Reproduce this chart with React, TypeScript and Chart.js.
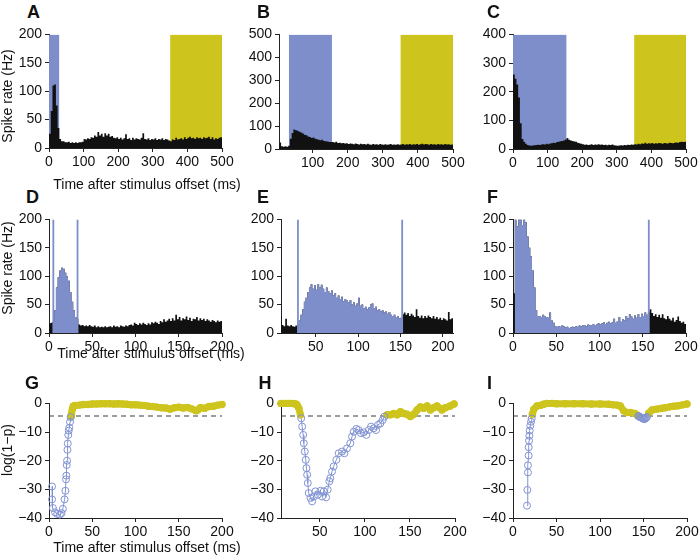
import React, { useEffect, useRef } from "react";
import { Chart, registerables } from "chart.js";

Chart.register(...registerables);

const FONT = "'Liberation Sans', Arial, Helvetica, sans-serif";
const BLUE = "#7d8eca";
const BLUE_MARK = "#8193d2";
const YELLOW = "#cdc41d";
const BLACK = "#111111";
const AXIS = "#222222";

// ---------- tick labels ----------
const ticks0to500 = [0, 100, 200, 300, 400, 500];
const ticks100to500 = [100, 200, 300, 400, 500];
const ticks0to200 = [0, 50, 100, 150, 200];
const ticks50to200 = [50, 100, 150, 200];
const rateTicks200 = [0, 50, 100, 150, 200];
const rateTicks500 = [0, 100, 200, 300, 400, 500];
const rateTicks400 = [0, 100, 200, 300, 400];
const logTicks = [-40, -30, -20, -10, 0];

// ---------- panel A (5 ms bins from 0) ----------
const aStart = 0;
const aBin = 5;
const aRate = [
  25, 65, 110, 112, 75, 35, 16, 12, 12, 10,
  10, 11, 9, 10, 9, 10, 9, 10, 10, 11,
  16, 15, 17, 16, 19, 18, 22, 20, 28, 22,
  25, 20, 26, 22, 25, 20, 21, 18, 17, 19,
  16, 18, 15, 17, 24, 16, 17, 14, 18, 15,
  17, 16, 15, 18, 26, 16, 15, 17, 14, 16,
  15, 17, 14, 16, 15, 17, 14, 16, 15, 13,
  12, 15, 14, 18, 15, 16, 17, 15, 19, 16,
  18, 20, 17, 18, 16, 19, 17, 18, 16, 19,
  17, 18, 20, 16, 19, 15, 17, 16, 18, 19,
];
const aBlueWin = [0, 30];
const aYellowWin = [350, 500];

// ---------- panel B (5 ms bins from 5) ----------
const bStart = 5;
const bBin = 5;
const bRate = [
  28, 12, 10, 12, 10, 14, 45, 70, 85, 82,
  80, 75, 72, 68, 62, 60, 55, 52, 48, 50,
  45, 42, 40, 38, 40, 35, 34, 33, 30, 31,
  30, 28, 32, 26, 27, 25, 26, 24, 25, 22,
  24, 23, 21, 24, 22, 20, 23, 21, 22, 20,
  23, 20, 19, 22, 20, 21, 19, 22, 20, 19,
  21, 18, 20, 22, 19, 20, 18, 21, 19, 20,
  22, 19, 21, 20, 22, 19, 21, 20, 22, 19,
  21, 23, 20, 22, 21, 19, 22, 20, 21, 19,
  22, 20, 21, 19, 22, 20, 21, 19, 20,
];
const bBlueWin = [32, 155];
const bYellowWin = [350, 500];

// ---------- panel C (5 ms bins from 0) ----------
const cStart = 0;
const cBin = 5;
const cRate = [
  260, 245, 225, 180, 90, 35, 25, 18, 14, 12,
  11, 12, 13, 14, 15, 14, 16, 17, 16, 18,
  17, 19, 20, 22, 21, 24, 25, 27, 28, 30,
  33, 38, 32, 30, 28, 26, 25, 22, 20, 18,
  17, 15, 16, 14, 15, 17, 14, 16, 15, 17,
  15, 16, 14, 15, 13, 15, 14, 16, 13, 12,
  11, 12, 13, 12, 14, 13, 15, 14, 16, 15,
  17, 16, 18, 17, 19, 18, 22, 18, 20, 19,
  21, 18, 20, 19, 21, 20, 18, 21, 20, 19,
  22, 21, 20, 22, 23, 22, 24, 25, 24, 25,
];
const cBlueWin = [0, 155];
const cYellowWin = [350, 500];

// ---------- panel D (2 ms bins from 0) ----------
const dStart = 0;
const dBin = 2;
const dRate = [
  17, 18, 20, 40, 80, 98, 110, 115, 113, 106,
  100, 92, 72, 55, 40, 28, 25, 15, 13, 14,
  12, 13, 12, 14, 12, 11, 13, 10, 12, 10,
  11, 10, 12, 10, 11, 12, 10, 13, 11, 12,
  10, 13, 12, 11, 13, 12, 14, 15, 13, 18,
  16, 14, 17, 15, 18, 16, 14, 17, 15, 19,
  17, 20, 18, 16, 21, 19, 24, 20, 22, 25,
  21, 26, 22, 32, 24, 28, 22, 26, 24, 29,
  23, 27, 21, 25, 24, 28, 22, 26, 23, 25,
  21, 24, 22, 20, 23, 21, 19, 22, 20, 21,
];
const dWin = [5, 33];

// ---------- panel E (2 ms bins from 8) ----------
const eStart = 8;
const eBin = 2;
const eRate = [
  29, 14, 12, 25, 13, 12, 14, 12, 11, 13,
  15, 22, 32, 42, 55, 62, 72, 80, 86, 78,
  84, 76, 86, 80, 85, 78, 72, 80, 74, 70,
  75, 66, 70, 62, 66, 60, 64, 56, 60, 58,
  54, 58, 50, 54, 48, 52, 62, 48, 50, 44,
  46, 42, 45, 50, 52, 44, 46, 40, 42, 38,
  40, 36, 38, 34, 37, 32, 30, 32, 28, 30,
  26, 27, 33, 36, 32, 35, 30, 34, 31, 28,
  42, 30, 27, 31, 26, 30, 27, 31, 28, 26,
  30, 25, 28, 24, 27, 23, 26, 24, 22, 37,
  24, 26,
];
const eWin = [29, 152];

// ---------- panel F (2 ms bins from 0) ----------
const fStart = 0;
const fBin = 2;
const fRate = [
  70, 250, 188, 250, 250, 190, 250, 195, 170, 150,
  135, 110, 80, 40, 30, 30, 28, 32, 30, 28,
  27, 36, 22, 18, 12, 11, 12, 11, 13, 12,
  10, 11, 9, 10, 11, 10, 12, 11, 13, 12,
  14, 13, 12, 15, 13, 14, 16, 14, 15, 17,
  15, 17, 19, 16, 18, 20, 17, 19, 25, 18,
  21, 28, 20, 24, 22, 30, 26, 33, 29, 25,
  31, 27, 33, 28, 34, 30, 36, 32, 38, 42,
  35, 30, 33, 28, 32, 27, 33, 26, 24, 30,
  25, 22, 27, 20, 23, 29, 21, 18, 20, 16,
];
const fWin = [2, 157];

// ---------- panels G, H, I: log(1-p) ----------
const threshold = -4.4;

const gBlueT = [3.5, 3.5, 4.5, 7, 9.5, 12.5, 14.5, 16, 18, 19, 19.7, 20.1, 20.5, 20.9, 21.3, 21.7, 22.3, 22.8, 23.5, 24.3, 25];
const gBlueLog = [-29, -33.5, -36.5, -38, -38.6, -38.8, -38.3, -36.8, -33.5, -30.5, -26.5, -25.2, -21.5, -20, -16.2, -14, -11, -9.5, -8.5, -6.5, -4.8];
const gYellowT = [25.5, 26, 27, 28, 30, 35, 40, 45, 50, 55, 60, 65, 70, 75, 80, 85, 90, 95, 100, 105, 110, 115, 120, 125, 130, 135, 140, 145, 150, 155, 160, 165, 170, 172, 175, 180, 185, 190, 195, 200];
const gYellowLog = [-4.5, -3.5, -2, -1, -0.7, -0.6, -0.4, -0.4, -0.2, -0.2, -0.1, -0.1, -0.1, -0.2, -0.1, -0.2, -0.3, -0.5, -0.5, -0.6, -0.7, -1.0, -1.1, -1.3, -1.5, -1.6, -2.0, -1.5, -1.3, -1.6, -1.4, -1.9, -2.6, -2.3, -1.5, -1.7, -1.1, -1.0, -0.6, -0.4];

const hYellowPreT = [7, 10, 13, 16, 19, 22, 24, 25, 26.8, 28.6];
const hYellowPreLog = [0, 0, 0, 0, 0, -0.1, -0.3, -0.6, -1.7, -4];
const hBlueT = [29.4, 30.5, 31.6, 32.3, 33.4, 34.5, 35.2, 36, 36.7, 37.8, 39.7, 41.5, 43.4, 45.2, 47.8, 50.8, 52.6, 54.4, 57, 58.8, 60.6, 61.7, 63.6, 65.4, 68.4, 71, 74.7, 77.3, 80.2, 83.9, 85.8, 87.6, 90.6, 93.1, 95.7, 98.7, 101.7, 104.3, 106.9, 109.8, 112.4, 114.6, 117.2, 119.8, 121.6];
const hBlueLog = [-5.2, -8.1, -11, -13.9, -16.8, -19.7, -22.6, -24.9, -27.8, -31.3, -33, -34.2, -32.5, -30.7, -31.9, -30.5, -32.5, -30.7, -32.8, -30.1, -27.2, -26.1, -23.8, -22, -19.7, -17.4, -16.8, -17.4, -15.7, -13.9, -11.6, -9.9, -8.9, -9.3, -10.4, -10.1, -11, -9.3, -8.1, -8.7, -9.3, -7.5, -7, -5.8, -4.6];
const hYellowPostT = [124.6, 128.3, 132, 135.7, 139.4, 143, 146.8, 150.5, 154.2, 157.9, 161.6, 165.3, 169, 172.7, 176.4, 180, 185.6, 189.3, 194.7, 199];
const hYellowPostLog = [-4, -4, -3.5, -4, -2.9, -3.5, -3.8, -4.6, -3.8, -2.3, -1.2, -1.7, -0.9, -2.3, -1.5, -0.9, -2.3, -1.5, -0.9, -0.2];

const iBlueT = [16.1, 16.5, 17.2, 17.2, 18, 18, 18.4, 18.8, 19.2, 19.9, 20.7, 21.5];
const iBlueLog = [-35.7, -30.2, -24.1, -21.6, -18.2, -15.3, -13, -11.3, -9.5, -7.8, -6.4, -5.3];
const iYellowT = [22.2, 23.8, 27.6, 31.4, 35.2, 39, 45, 50, 60, 70, 80, 90, 100, 110, 115, 120, 123.4, 127.2, 131, 135, 140, 143];
const iYellowLog = [-3.8, -2.1, -0.9, -0.7, -0.3, 0, 0, -0.1, -0.1, -0.1, -0.1, -0.2, -0.2, -0.3, -0.5, -0.6, -0.9, -2.6, -3.2, -3.2, -3.5, -4.1];
const iBlue2T = [144, 145, 146, 147, 148, 149, 150, 151, 152, 153, 154];
const iBlue2Log = [-4.4, -4.6, -4.8, -4.9, -5, -5.2, -5.4, -5.5, -5.3, -5, -4.7];
const iYellow2T = [155.9, 159.8, 165, 170, 175, 180, 185, 190, 195, 200];
const iYellow2Log = [-3.4, -2.3, -2, -1.8, -1.5, -1.2, -1, -0.8, -0.5, -0.2];

// ---------- helpers ----------
type Pt = { x: number; y: number };

function steps(start: number, width: number, vals: number[]): Pt[] {
  const pts = vals.map((v, i) => ({ x: start + i * width, y: v }));
  pts.push({ x: start + vals.length * width, y: vals[vals.length - 1] });
  return pts;
}

function windowSteps(start: number, width: number, vals: number[], a: number, b: number): Pt[] {
  const idx = (x: number) => Math.min(vals.length - 1, Math.max(0, Math.floor((x - start) / width)));
  const pts: Pt[] = [{ x: a, y: vals[idx(a)] }];
  vals.forEach((v, i) => {
    const e = start + i * width;
    if (e > a && e < b) pts.push({ x: e, y: v });
  });
  pts.push({ x: b, y: vals[idx(b - 1e-6)] });
  return pts;
}

const pairs = (xs: number[], ys: number[]): Pt[] => xs.map((x, i) => ({ x, y: ys[i] }));

const CLEAR = "rgba(0,0,0,0)";

function shadeDs(win: number[], top: number, color: string) {
  return {
    data: [{ x: win[0], y: top }, { x: win[1], y: top }],
    stepped: true, fill: "origin", backgroundColor: color,
    borderColor: CLEAR, borderWidth: 0, pointRadius: 0, order: 5,
  };
}
function histDs(pts: Pt[], color: string, order: number) {
  return {
    data: pts, stepped: true, fill: "origin", backgroundColor: color,
    borderColor: CLEAR, borderWidth: 0, pointRadius: 0, order,
  };
}
function vlineDs(x: number, top: number) {
  return {
    data: [{ x, y: 0 }, { x, y: top }],
    borderColor: BLUE, borderWidth: 1.8, pointRadius: 0, fill: false, order: 0,
  };
}
function dashDs(a: number, b: number) {
  return {
    data: [{ x: a, y: threshold }, { x: b, y: threshold }],
    borderColor: "#3a3a3a", borderWidth: 1.2, borderDash: [5, 4],
    pointRadius: 0, fill: false, order: 6,
  };
}
function yellowDs(ts: number[], vals: number[]) {
  return {
    data: pairs(ts, vals), borderColor: YELLOW, borderWidth: 7,
    borderCapStyle: "round", borderJoinStyle: "round",
    pointRadius: 3.7, pointBackgroundColor: YELLOW, pointBorderWidth: 0,
    fill: false, order: 3, clip: 10,
  };
}
function blueDs(ts: number[], vals: number[]) {
  return {
    data: pairs(ts, vals), borderColor: BLUE_MARK, borderWidth: 1,
    pointRadius: 3.5, pointBorderColor: BLUE_MARK, pointBackgroundColor: CLEAR,
    pointBorderWidth: 1, fill: false, order: 1, clip: 10,
  };
}

const fmt = (v: number) => (v < 0 ? "\u2212" + Math.abs(v) : String(v));

type PanelCfg = {
  rect: [number, number, number, number]; // left, right, top, bottom
  x: [number, number];
  y: [number, number];
  xTicks: number[];
  yTicks: number[];
  datasets: any[];
};

const panels: PanelCfg[] = [
  {
    rect: [49, 222, 33, 148], x: [0, 500], y: [0, 200], xTicks: ticks0to500, yTicks: rateTicks200,
    datasets: [shadeDs(aBlueWin, 200, BLUE), shadeDs(aYellowWin, 200, YELLOW), histDs(steps(aStart, aBin, aRate), BLACK, 2)],
  },
  {
    rect: [279, 453, 33, 149], x: [4, 500], y: [0, 500], xTicks: ticks100to500, yTicks: rateTicks500,
    datasets: [shadeDs(bBlueWin, 500, BLUE), shadeDs(bYellowWin, 500, YELLOW), histDs(steps(bStart, bBin, bRate), BLACK, 2)],
  },
  {
    rect: [513, 686, 33, 149], x: [0, 500], y: [0, 400], xTicks: ticks0to500, yTicks: rateTicks400,
    datasets: [shadeDs(cBlueWin, 400, BLUE), shadeDs(cYellowWin, 400, YELLOW), histDs(steps(cStart, cBin, cRate), BLACK, 2)],
  },
  {
    rect: [49, 222, 218, 333], x: [0, 200], y: [0, 200], xTicks: ticks0to200, yTicks: rateTicks200,
    datasets: [
      histDs(steps(dStart, dBin, dRate), BLACK, 3),
      histDs(windowSteps(dStart, dBin, dRate, dWin[0], dWin[1]), BLUE, 2),
      vlineDs(dWin[0], 200), vlineDs(dWin[1], 200),
    ],
  },
  {
    rect: [281, 453, 218, 333], x: [9, 212], y: [0, 200], xTicks: ticks50to200, yTicks: rateTicks200,
    datasets: [
      histDs(steps(eStart, eBin, eRate), BLACK, 3),
      histDs(windowSteps(eStart, eBin, eRate, eWin[0], eWin[1]), BLUE, 2),
      vlineDs(eWin[0], 200), vlineDs(eWin[1], 200),
    ],
  },
  {
    rect: [513, 686, 218, 333], x: [0, 200], y: [0, 200], xTicks: ticks0to200, yTicks: rateTicks200,
    datasets: [
      histDs(steps(fStart, fBin, fRate), BLACK, 3),
      histDs(windowSteps(fStart, fBin, fRate, fWin[0], fWin[1]), BLUE, 2),
      vlineDs(fWin[1], 200),
    ],
  },
  {
    rect: [49, 222, 402, 518], x: [0, 200], y: [-40, 0], xTicks: ticks0to200, yTicks: logTicks,
    datasets: [dashDs(0, 200), yellowDs(gYellowT, gYellowLog), blueDs(gBlueT, gBlueLog)],
  },
  {
    rect: [281, 455, 402, 518], x: [7, 200], y: [-40, 0], xTicks: ticks50to200, yTicks: logTicks,
    datasets: [
      dashDs(7, 200), yellowDs(hYellowPreT, hYellowPreLog), yellowDs(hYellowPostT, hYellowPostLog),
      blueDs(hBlueT, hBlueLog),
    ],
  },
  {
    rect: [513, 687, 402, 518], x: [0, 200], y: [-40, 0], xTicks: ticks0to200, yTicks: logTicks,
    datasets: [
      dashDs(0, 200), yellowDs(iYellowT, iYellowLog), yellowDs(iYellow2T, iYellow2Log),
      blueDs(iBlueT, iBlueLog), blueDs(iBlue2T, iBlue2Log),
    ],
  },
];

const YW = 48; // y-axis box width
const XH = 24; // x-axis box height
const PAD_T = 10;
const PAD_R = 14;

function Panel({ cfg }: { cfg: PanelCfg }) {
  const ref = useRef<HTMLCanvasElement>(null);
  const [l, r, t, b] = cfg.rect;
  const w = r - l + YW + PAD_R;
  const h = b - t + PAD_T + XH;

  useEffect(() => {
    const tickFont = { family: FONT, size: 14 };
    const grid = { display: true, drawOnChartArea: false, drawTicks: true, tickLength: 4, color: AXIS, lineWidth: 1 };
    const border = { display: true, color: AXIS, width: 1 };
    const chart = new Chart(ref.current as HTMLCanvasElement, {
      type: "line",
      data: { datasets: cfg.datasets },
      options: {
        animation: false,
        responsive: false,
        maintainAspectRatio: false,
        events: [],
        layout: { padding: { top: PAD_T, right: PAD_R, left: 0, bottom: 0 } },
        plugins: { legend: { display: false }, tooltip: { enabled: false } },
        scales: {
          x: {
            type: "linear", min: cfg.x[0], max: cfg.x[1],
            afterBuildTicks: (ax: any) => { ax.ticks = cfg.xTicks.map((v) => ({ value: v })); },
            afterFit: (s: any) => { s.height = XH; },
            ticks: { autoSkip: false, maxRotation: 0, color: "#111", font: tickFont, padding: 2, callback: (v: any) => fmt(Number(v)) },
            grid, border,
          },
          y: {
            type: "linear", min: cfg.y[0], max: cfg.y[1],
            afterBuildTicks: (ax: any) => { ax.ticks = cfg.yTicks.map((v) => ({ value: v })); },
            afterFit: (s: any) => { s.width = YW; },
            ticks: { autoSkip: false, color: "#111", font: tickFont, padding: 3, callback: (v: any) => fmt(Number(v)) },
            grid, border,
          },
        },
      } as any,
    });
    return () => chart.destroy();
  }, []);

  return (
    <canvas
      ref={ref}
      width={w}
      height={h}
      style={{ position: "absolute", left: l - YW, top: t - PAD_T, width: w, height: h }}
    />
  );
}

type LabelProps = { x: number; y: number; text: string; size: number; bold?: boolean; rotate?: boolean };
function Label({ x, y, text, size, bold, rotate }: LabelProps) {
  return (
    <div
      style={{
        position: "absolute", left: x, top: y,
        transform: `translate(-50%, -50%)${rotate ? " rotate(-90deg)" : ""}`,
        fontSize: size, fontWeight: bold ? 700 : 400, lineHeight: 1,
        whiteSpace: "nowrap", color: "#111", fontFamily: FONT,
      }}
    >
      {text}
    </div>
  );
}

const letters: [string, number, number][] = [
  ["A", 33.5, 12], ["B", 263.5, 12], ["C", 493.5, 12],
  ["D", 32.5, 197], ["E", 263, 196.5], ["F", 492.5, 196.5],
  ["G", 32, 382.5], ["H", 265, 382.5], ["I", 489.5, 383],
];

export default function App() {
  return (
    <div style={{ position: "absolute", left: 0, top: 0, width: 700, height: 558, background: "#fff", overflow: "hidden" }}>
      {panels.map((p, i) => (
        <Panel key={i} cfg={p} />
      ))}
      {letters.map(([t, x, y]) => (
        <Label key={t} x={x} y={y} text={t} size={18} bold />
      ))}
      <Label x={7} y={96} text="Spike rate (Hz)" size={14} rotate />
      <Label x={7} y={268} text="Spike rate (Hz)" size={14} rotate />
      <Label x={7} y={450} text={"log(1\u2212p)"} size={14} rotate />
      <Label x={147} y={184} text="Time after stimulus offset (ms)" size={14} />
      <Label x={151} y={353} text="Time after stimulus offset (ms)" size={14} />
      <Label x={147} y={547} text="Time after stimulus offset (ms)" size={14} />
    </div>
  );
}
